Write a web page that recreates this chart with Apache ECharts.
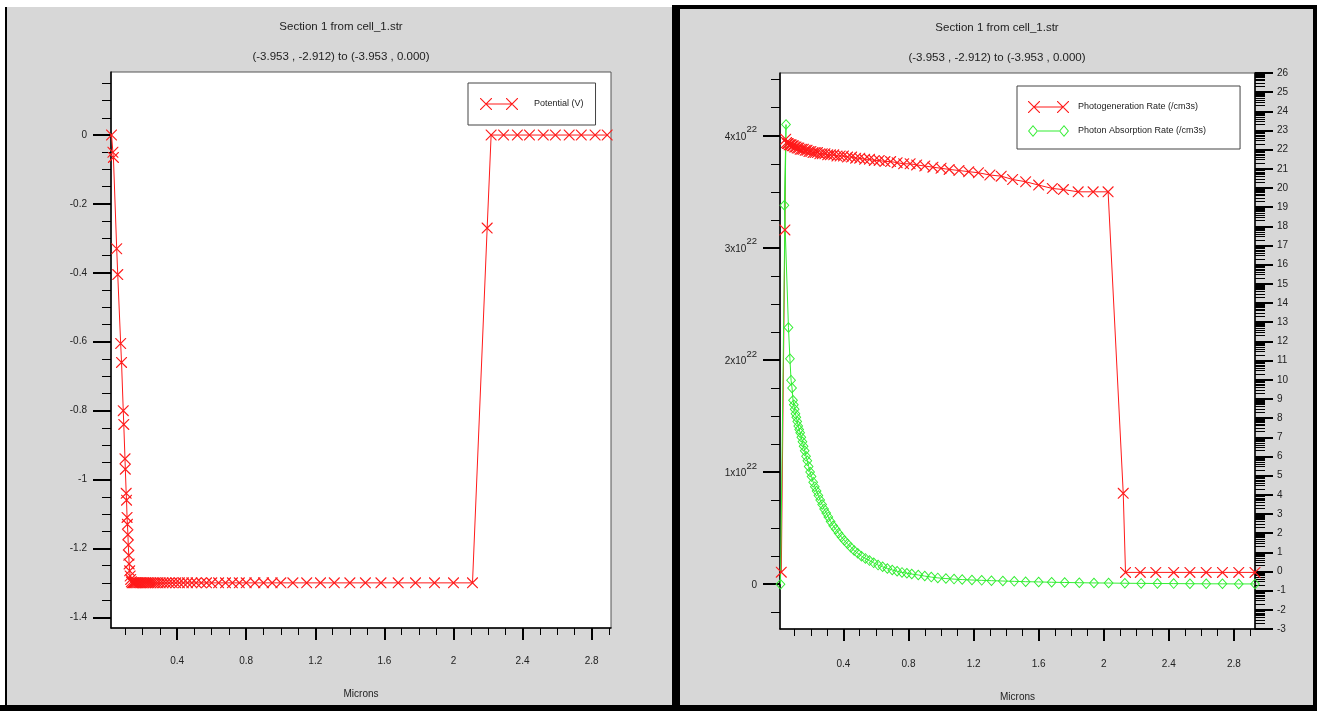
<!DOCTYPE html>
<html><head><meta charset="utf-8">
<script src="https://cdn.jsdelivr.net/npm/echarts@6/dist/echarts.min.js"></script>
<style>
html,body{margin:0;padding:0;background:#fff;overflow:hidden;}
#wrap{position:relative;width:1317px;height:711px;}
.b{position:absolute;}
#c{position:absolute;left:0;top:0;width:1317px;height:711px;}
</style>
</head><body><div id="wrap">
<div class="b" style="left:5px;top:7px;width:2px;height:704px;background:#000"></div>
<div class="b" style="left:7px;top:7px;width:665px;height:699px;background:#d7d7d7"></div>
<div class="b" style="left:672px;top:5px;width:645px;height:706px;background:#000"></div>
<div class="b" style="left:680px;top:9px;width:633px;height:696px;background:#d7d7d7"></div>
<div class="b" style="left:0px;top:705px;width:1317px;height:6px;background:#000"></div>
<div id="c"></div></div>
<script>
const FONT = "'Liberation Sans',Arial,sans-serif";
const titleText = 'Section 1 from cell_1.str';
const subText = '(-3.953 , -2.912) to (-3.953 , 0.000)';
const xAxisName = 'Microns';
const xMajor = [0.4, 0.8, 1.2, 1.6, 2, 2.4, 2.8];
const potMajor = [-1.4, -1.2, -1, -0.8, -0.6, -0.4, -0.2, 0];
const rateMajor = [0, 1, 2, 3, 4];            // x10^22
const logMajorMin = -3, logMajorMax = 26;

// Potential (V)
const potX = [0.020,0.028,0.031,0.050,0.056,0.073,0.078,0.088,0.091,0.098,0.100,0.105,0.107,0.110,0.112,0.115,0.117,0.120,0.122,0.125,0.128,0.131,0.135,0.140,0.146,0.152,0.158,0.165,0.172,0.180,0.188,0.197,0.206,0.216,0.226,0.237,0.248,0.260,0.273,0.287,0.302,0.318,0.335,0.353,0.372,0.392,0.413,0.436,0.46,0.485,0.51,0.54,0.57,0.60,0.64,0.68,0.72,0.76,0.80,0.85,0.90,0.95,1.00,1.07,1.15,1.23,1.31,1.40,1.49,1.58,1.68,1.78,1.89,2.00,2.11,2.195,2.218,2.29,2.37,2.44,2.52,2.59,2.67,2.74,2.82,2.89];
const potV = [0,-0.05,-0.065,-0.33,-0.405,-0.605,-0.66,-0.80,-0.84,-0.94,-0.97,-1.04,-1.06,-1.11,-1.13,-1.16,-1.19,-1.22,-1.245,-1.265,-1.28,-1.29,-1.297,-1.3,-1.3,-1.3,-1.3,-1.3,-1.3,-1.3,-1.3,-1.3,-1.3,-1.3,-1.3,-1.3,-1.3,-1.3,-1.3,-1.3,-1.3,-1.3,-1.3,-1.3,-1.3,-1.3,-1.3,-1.3,-1.3,-1.3,-1.3,-1.3,-1.3,-1.3,-1.3,-1.3,-1.3,-1.3,-1.3,-1.3,-1.3,-1.3,-1.3,-1.3,-1.3,-1.3,-1.3,-1.3,-1.3,-1.3,-1.3,-1.3,-1.3,-1.3,-1.3,-0.27,0,0,0,0,0,0,0,0,0,0];

// Photogeneration Rate (/cm3s), x10^22
const genX = [0.018,0.040,0.045,0.050,0.055,0.060,0.066,0.072,0.078,0.085,0.092,0.100,0.108,0.116,0.125,0.134,0.144,0.154,0.165,0.176,0.188,0.200,0.213,0.226,0.240,0.255,0.270,0.286,0.303,0.320,0.340,0.360,0.380,0.400,0.425,0.450,0.475,0.500,0.530,0.560,0.590,0.620,0.655,0.690,0.730,0.770,0.810,0.850,0.900,0.950,1.000,1.050,1.110,1.170,1.230,1.300,1.370,1.440,1.520,1.600,1.684,1.752,1.843,1.935,2.027,2.120,2.134,2.225,2.320,2.430,2.530,2.630,2.730,2.830,2.930];
const genV = [0.107,3.16,3.97,3.94,3.93,3.93,3.92,3.92,3.92,3.91,3.91,3.90,3.90,3.89,3.89,3.88,3.88,3.88,3.87,3.87,3.86,3.86,3.85,3.85,3.85,3.84,3.84,3.84,3.83,3.83,3.83,3.82,3.82,3.82,3.81,3.81,3.80,3.80,3.79,3.79,3.78,3.78,3.77,3.77,3.76,3.75,3.75,3.74,3.73,3.72,3.71,3.70,3.69,3.68,3.67,3.65,3.64,3.61,3.59,3.56,3.53,3.52,3.50,3.50,3.50,0.81,0.105,0.105,0.105,0.105,0.105,0.105,0.105,0.105,0.105];

// Photon Absorption Rate (/cm3s), x10^22
const absX = [0.013,0.047,0.037,0.062,0.071,0.078,0.084,0.090,0.095,0.100,0.105,0.110,0.116,0.122,0.128,0.134,0.141,0.148,0.155,0.162,0.170,0.178,0.186,0.195,0.204,0.214,0.224,0.235,0.246,0.257,0.269,0.281,0.294,0.307,0.321,0.337,0.353,0.370,0.388,0.406,0.425,0.445,0.466,0.488,0.511,0.535,0.560,0.586,0.613,0.641,0.670,0.700,0.730,0.760,0.790,0.820,0.860,0.900,0.940,0.980,1.030,1.080,1.130,1.190,1.250,1.310,1.380,1.450,1.520,1.600,1.680,1.760,1.850,1.940,2.030,2.130,2.230,2.330,2.430,2.530,2.630,2.730,2.830,2.930];
const absV = [0,4.10,3.38,2.29,2.01,1.82,1.75,1.64,1.60,1.56,1.52,1.49,1.45,1.41,1.38,1.35,1.31,1.27,1.23,1.19,1.14,1.10,1.05,1.00,0.96,0.91,0.87,0.83,0.79,0.75,0.71,0.67,0.635,0.60,0.56,0.52,0.49,0.455,0.42,0.39,0.36,0.33,0.30,0.275,0.25,0.23,0.21,0.19,0.17,0.155,0.14,0.127,0.115,0.105,0.098,0.09,0.082,0.072,0.063,0.056,0.05,0.045,0.041,0.037,0.034,0.031,0.028,0.025,0.022,0.02,0.017,0.015,0.013,0.011,0.01,0.008,0.007,0.006,0.005,0.004,0.003,0.003,0.002,0.002];

const zip = (a, b) => a.map((v, i) => [v, b[i]]);
const range = (a, b, s) => { const r = []; for (let v = a; v <= b + 1e-9; v += s) r.push(+v.toFixed(4)); return r; };
const xMinor = range(0.1, 2.9, 0.1);
const potMinor = range(-1.4, 0.15, 0.05);
const rateMinor = range(-0.25, 4.5, 0.25);
const logMinor = [];
for (let n = logMajorMin; n < logMajorMax; n++) for (let k = 2; k <= 9; k++) logMinor.push(+(n + Math.log10(k)).toFixed(4));

// glyph outlines built as thin filled polygons
function xGlyph(ox, s, t) {
  const a = ox, b = ox + s;
  return `M${a},0L${a + t},0L${b},${s - t}L${b},${s}L${b - t},${s}L${a},${t}Z` +
         `M${b},0L${b},${t}L${a + t},${s}L${a},${s}L${a},${s - t}L${b - t},0Z`;
}
function dGlyph(ox, w, h, t) {
  const cx = ox + w / 2, cy = h / 2;
  return `M${cx},0L${ox + w},${cy}L${cx},${h}L${ox},${cy}Z` +
         `M${cx},${t * 1.4}L${ox + t * 1.2},${cy}L${cx},${h - t * 1.4}L${ox + w - t * 1.2},${cy}Z`;
}
const bar = (x0, x1, y, t) => `M${x0},${y - t / 2}L${x1},${y - t / 2}L${x1},${y + t / 2}L${x0},${y + t / 2}Z`;
const XPATH = 'path://' + xGlyph(0, 10, 0.75);
const DPATH = 'path://' + dGlyph(0, 10, 11, 1.05);
const LEG_RED_L = 'path://' + xGlyph(0, 12, 0.8) + bar(6, 32, 6, 1) + xGlyph(26, 12, 0.8);
const LEG_RED = 'path://' + xGlyph(0, 12, 0.8) + bar(6, 35, 6, 1) + xGlyph(29, 12, 0.8);
const LEG_GREEN = 'path://' + dGlyph(0, 10, 12, 1.05) + bar(10, 31, 6, 1) + dGlyph(31, 10, 12, 1.05);
const RED = '#ff1a1a', GREEN = '#33ee33';
const txt = { fontFamily: FONT, color: '#222' };

function xAxes(grid, min, max, nameGap, margin) {
  return [
    { type: 'value', gridIndex: grid, min, max, position: 'bottom',
      axisLine: { show: true, onZero: false, lineStyle: { color: '#000', width: 1.5 } },
      axisTick: { show: true, customValues: xMajor, length: 12, lineStyle: { color: '#000', width: 2 } },
      axisLabel: { customValues: xMajor, margin, fontSize: 10, ...txt },
      splitLine: { show: false },
      name: xAxisName, nameLocation: 'middle', nameGap, nameTextStyle: { fontSize: 10, ...txt } },
    { type: 'value', gridIndex: grid, min, max, position: 'bottom',
      axisLine: { show: false, onZero: false }, axisLabel: { show: false }, splitLine: { show: false },
      axisTick: { show: true, customValues: xMinor, length: 7, lineStyle: { color: '#000', width: 1 } } }
  ];
}

const option = {
  animation: false,
  title: [
    { text: titleText, subtext: subText, left: 341, top: 20, textAlign: 'center', padding: 0, itemGap: 16,
      textStyle: { fontSize: 11.5, lineHeight: 14, fontWeight: 'normal', ...txt },
      subtextStyle: { fontSize: 11.5, lineHeight: 14, ...txt } },
    { text: titleText, subtext: subText, left: 997, top: 21, textAlign: 'center', padding: 0, itemGap: 16,
      textStyle: { fontSize: 11.5, lineHeight: 14, fontWeight: 'normal', ...txt },
      subtextStyle: { fontSize: 11.5, lineHeight: 14, ...txt } }
  ],
  legend: [
    { data: [{ name: 'Potential (V)', icon: LEG_RED_L }],
      left: 468, top: 83, orient: 'vertical', itemWidth: 38, itemHeight: 12,
      padding: [15, 12, 15, 12], borderColor: '#444', borderWidth: 1, backgroundColor: '#fff',
      itemStyle: { borderWidth: 0 },
      textStyle: { fontSize: 9, lineHeight: 12, padding: [0, 0, 0, 11], ...txt } },
    { data: [
        { name: 'Photogeneration Rate (/cm3s)', icon: LEG_RED },
        { name: 'Photon Absorption Rate (/cm3s)', icon: LEG_GREEN } ],
      left: 1017, top: 86, orient: 'vertical', itemWidth: 41, itemHeight: 12, itemGap: 12,
      padding: [15, 34, 12, 11], borderColor: '#444', borderWidth: 1, backgroundColor: '#fff',
      itemStyle: { borderWidth: 0 },
      textStyle: { fontSize: 9, lineHeight: 12, padding: [0, 0, 0, 4], ...txt } }
  ],
  grid: [
    { left: 111, top: 72, width: 500, height: 556, show: true, backgroundColor: '#fff', borderColor: '#555', borderWidth: 1 },
    { left: 780, top: 73, width: 475, height: 556, show: true, backgroundColor: '#fff', borderColor: '#555', borderWidth: 1 }
  ],
  xAxis: [...xAxes(0, 0.017, 2.912, 61, 28), ...xAxes(1, 0.01, 2.93, 63, 30)],
  yAxis: [
    { type: 'value', gridIndex: 0, min: -1.431, max: 0.183, position: 'left',
      axisLine: { show: true, onZero: false, lineStyle: { color: '#000', width: 1.5 } },
      axisTick: { show: true, customValues: potMajor, length: 18, lineStyle: { color: '#000', width: 2 } },
      axisLabel: { customValues: potMajor, margin: 24, fontSize: 10, ...txt },
      splitLine: { show: false } },
    { type: 'value', gridIndex: 0, min: -1.431, max: 0.183, position: 'left',
      axisLine: { show: false, onZero: false }, axisLabel: { show: false }, splitLine: { show: false },
      axisTick: { show: true, customValues: potMinor, length: 9, lineStyle: { color: '#000', width: 1 } } },
    { type: 'value', gridIndex: 1, min: -0.4, max: 4.56, position: 'left',
      axisLine: { show: true, onZero: false, lineStyle: { color: '#000', width: 1.5 } },
      axisTick: { show: true, customValues: rateMajor, length: 17, lineStyle: { color: '#000', width: 2 } },
      axisLabel: { customValues: rateMajor, margin: 23, ...txt,
        formatter: v => v === 0 ? '{m|0}' : '{m|' + v + 'x10}{s|22}',
        rich: { m: { fontSize: 10, fontFamily: FONT, color: '#222', lineHeight: 12, verticalAlign: 'bottom' },
                s: { fontSize: 9.5, fontFamily: FONT, color: '#222', lineHeight: 10, padding: [0, 0, 7, 0], verticalAlign: 'bottom' } } },
      splitLine: { show: false } },
    { type: 'value', gridIndex: 1, min: -0.4, max: 4.56, position: 'left',
      axisLine: { show: false, onZero: false }, axisLabel: { show: false }, splitLine: { show: false },
      axisTick: { show: true, customValues: rateMinor, length: 9, lineStyle: { color: '#000', width: 1 } } },
    { type: 'value', gridIndex: 1, min: logMajorMin, max: logMajorMax, interval: 1, position: 'right',
      axisLine: { show: true, onZero: false, lineStyle: { color: '#000', width: 1.5 } },
      axisTick: { show: true, length: 18, lineStyle: { color: '#000', width: 2 } },
      axisLabel: { margin: 22, fontSize: 10, ...txt }, splitLine: { show: false } },
    { type: 'value', gridIndex: 1, min: logMajorMin, max: logMajorMax, position: 'right',
      axisLine: { show: false, onZero: false }, axisLabel: { show: false }, splitLine: { show: false },
      axisTick: { show: true, customValues: logMinor, length: 10, lineStyle: { color: '#000', width: 1 } } }
  ],
  series: [
    { name: 'Potential (V)', type: 'line', xAxisIndex: 0, yAxisIndex: 0, data: zip(potX, potV),
      symbol: XPATH, symbolSize: 11, showAllSymbol: true,
      lineStyle: { color: RED, width: 1 }, itemStyle: { color: RED, borderWidth: 0 } },
    { name: 'Photogeneration Rate (/cm3s)', type: 'line', xAxisIndex: 2, yAxisIndex: 2, data: zip(genX, genV),
      symbol: XPATH, symbolSize: 11, showAllSymbol: true,
      lineStyle: { color: RED, width: 1 }, itemStyle: { color: RED, borderWidth: 0 } },
    { name: 'Photon Absorption Rate (/cm3s)', type: 'line', xAxisIndex: 2, yAxisIndex: 2, data: zip(absX, absV),
      symbol: DPATH, symbolSize: [10, 11], showAllSymbol: true,
      lineStyle: { color: GREEN, width: 1 }, itemStyle: { color: GREEN, borderWidth: 0 } }
  ]
};
const chart = echarts.init(document.getElementById('c'), null, { renderer: 'canvas' });
chart.setOption(option);
</script></body></html>
